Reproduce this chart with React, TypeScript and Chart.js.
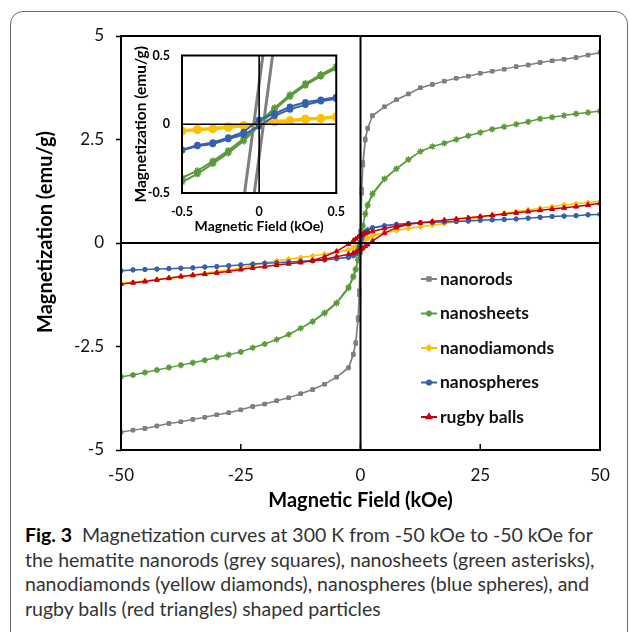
import React, { useEffect, useRef } from 'react';
import { Chart, registerables } from 'chart.js';
import { drawPoint } from 'chart.js/helpers';

Chart.register(...registerables);

// ---------- main chart data (field in kOe, magnetization in emu/g) ----------
const fieldOuterPos = [50, 47.5, 45, 42.5, 40, 37.5, 35, 32.5, 30, 27.5, 25, 22.5, 20, 17.5, 15, 12.5];
const fieldLoop = [10, 7.5, 5, 2.5, 1.5, 1, 0.5, 0.25, 0, -0.25, -0.5, -1, -1.5, -2.5, -5, -7.5, -10];
const fieldOuterNeg = [-12.5, -15, -17.5, -20, -22.5, -25, -27.5, -30, -32.5, -35, -37.5, -40, -42.5, -45, -47.5, -50];

const seriesLabels = ['nanorods', 'nanosheets', 'nanodiamonds', 'nanospheres', 'rugby balls'];

// nanorods (grey squares)
const rodsOuterPos = [4.6, 4.54, 4.48, 4.44, 4.4, 4.36, 4.3, 4.26, 4.2, 4.15, 4.1, 4.03, 3.98, 3.91, 3.83, 3.75];
const rodsLoopDown = [3.6, 3.46, 3.29, 3.07, 2.78, 2.52, 1.95, 1.3, 0.29, -1.15, -1.8, -2.4, -2.68, -3.01, -3.24, -3.41, -3.54];
const rodsLoopUp = [3.6, 3.46, 3.29, 3.08, 2.76, 2.48, 1.88, 1.2, -0.24, -1.25, -1.86, -2.43, -2.7, -3.02, -3.24, -3.41, -3.54];
const rodsOuterNeg = [-3.64, -3.74, -3.81, -3.89, -3.95, -4.03, -4.1, -4.15, -4.21, -4.26, -4.32, -4.36, -4.42, -4.48, -4.52, -4.57];

// nanosheets (green asterisks)
const sheetsOuterPos = [3.19, 3.15, 3.12, 3.08, 3.04, 3.0, 2.93, 2.87, 2.81, 2.75, 2.67, 2.59, 2.5, 2.41, 2.33, 2.21];
const sheetsLoopDown = [2.02, 1.8, 1.56, 1.2, 0.93, 0.72, 0.42, 0.23, 0.01, -0.21, -0.39, -0.62, -0.8, -1.06, -1.44, -1.68, -1.89];
const sheetsLoopUp = [2.01, 1.79, 1.54, 1.17, 0.9, 0.69, 0.41, 0.21, -0.01, -0.24, -0.42, -0.65, -0.83, -1.09, -1.46, -1.7, -1.9];
const sheetsOuterNeg = [-2.06, -2.21, -2.33, -2.44, -2.53, -2.63, -2.7, -2.76, -2.83, -2.89, -2.95, -3.01, -3.07, -3.13, -3.19, -3.23];

// nanodiamonds (yellow diamonds)
const diamondsOuterPos = [1.01, 0.98, 0.95, 0.92, 0.88, 0.84, 0.8, 0.76, 0.72, 0.67, 0.62, 0.57, 0.52, 0.47, 0.43, 0.39];
const diamondsLoopDown = [0.35, 0.3, 0.25, 0.18, 0.13, 0.1, 0.055, 0.035, 0.01, -0.02, -0.045, -0.08, -0.11, -0.16, -0.22, -0.27, -0.31];
const diamondsLoopUp = [0.35, 0.3, 0.24, 0.16, 0.11, 0.08, 0.05, 0.02, -0.01, -0.03, -0.05, -0.09, -0.12, -0.17, -0.23, -0.27, -0.31];
const diamondsOuterNeg = [-0.35, -0.39, -0.43, -0.48, -0.54, -0.61, -0.65, -0.69, -0.73, -0.77, -0.8, -0.84, -0.88, -0.91, -0.95, -0.98];

// nanospheres (blue spheres)
const spheresOuterPos = [0.69, 0.68, 0.66, 0.65, 0.64, 0.62, 0.6, 0.58, 0.57, 0.56, 0.55, 0.53, 0.52, 0.51, 0.5, 0.49];
const spheresLoopDown = [0.47, 0.45, 0.42, 0.37, 0.32, 0.28, 0.2, 0.13, 0.03, -0.08, -0.18, -0.26, -0.3, -0.34, -0.38, -0.41, -0.43];
const spheresLoopUp = [0.47, 0.45, 0.41, 0.36, 0.31, 0.26, 0.185, 0.1, -0.014, -0.11, -0.19, -0.27, -0.31, -0.35, -0.38, -0.41, -0.43];
const spheresOuterNeg = [-0.44, -0.46, -0.48, -0.49, -0.51, -0.53, -0.55, -0.57, -0.58, -0.6, -0.61, -0.62, -0.63, -0.64, -0.65, -0.67];

// rugby balls (red triangles)
const rugbyOuterPos = [0.96, 0.92, 0.88, 0.85, 0.82, 0.79, 0.76, 0.73, 0.7, 0.67, 0.64, 0.61, 0.58, 0.55, 0.52, 0.49];
const rugbyLoopDown = [0.46, 0.41, 0.35, 0.28, 0.25, 0.23, 0.21, 0.2, 0.18, 0.16, 0.14, 0.1, 0.06, -0.03, -0.2, -0.33, -0.42];
const rugbyLoopUp = [0.45, 0.37, 0.24, 0.05, -0.04, -0.08, -0.12, -0.14, -0.16, -0.18, -0.2, -0.22, -0.24, -0.27, -0.33, -0.39, -0.43];
const rugbyOuterNeg = [-0.47, -0.5, -0.53, -0.57, -0.6, -0.64, -0.68, -0.72, -0.75, -0.78, -0.81, -0.85, -0.89, -0.93, -0.96, -0.99];

// ---------- inset data (-0.5 .. 0.5 kOe) ----------
const insetField = [-0.5, -0.4, -0.3, -0.2, -0.1, 0, 0.1, 0.2, 0.3, 0.4, 0.5];
const sheetsInsetDown = [-0.39, -0.338, -0.268, -0.192, -0.103, 0.01, 0.12, 0.214, 0.296, 0.361, 0.42];
const sheetsInsetUp = [-0.42, -0.361, -0.286, -0.209, -0.122, -0.01, 0.108, 0.202, 0.284, 0.35, 0.406];
const spheresInsetDown = [-0.186, -0.152, -0.133, -0.097, -0.056, 0.033, 0.077, 0.127, 0.16, 0.178, 0.197];
const spheresInsetUp = [-0.19, -0.158, -0.143, -0.108, -0.075, -0.014, 0.061, 0.108, 0.141, 0.167, 0.185];
const diamondsInsetDown = [-0.047, -0.036, -0.031, -0.019, -0.007, 0.006, 0.021, 0.028, 0.04, 0.044, 0.056];
const diamondsInsetUp = [-0.051, -0.04, -0.035, -0.023, -0.011, -0.004, 0.017, 0.024, 0.036, 0.04, 0.052];
const rodsInsetFieldDown = [0.036, -0.106];
const rodsInsetMDown = [0.6, -0.6];
const rodsInsetFieldUp = [-0.043, 0.099];
const rodsInsetMUp = [-0.6, 0.6];

const mainTicksX = [-50, -25, 0, 25, 50];
const mainTicksY = [-5, -2.5, 0, 2.5, 5];

const GREY = '#7f7f7f';
const GREEN = '#5b9a3c';
const YELLOW = '#ffc000';
const BLUE = '#3660ad';
const RED = '#c8000a';
const FONT = 'Lato, "Open Sans", sans-serif';

function buildLoop(outerPos: number[], loopDown: number[], loopUp: number[], outerNeg: number[]) {
  const pts: { x: number; y: number }[] = [];
  fieldOuterPos.forEach((h, i) => pts.push({ x: h, y: outerPos[i] }));
  fieldLoop.forEach((h, i) => pts.push({ x: h, y: loopDown[i] }));
  fieldOuterNeg.forEach((h, i) => pts.push({ x: h, y: outerNeg[i] }));
  for (let i = fieldOuterNeg.length - 1; i >= 0; i--) pts.push({ x: fieldOuterNeg[i], y: outerNeg[i] });
  for (let i = fieldLoop.length - 1; i >= 0; i--) pts.push({ x: fieldLoop[i], y: loopUp[i] });
  for (let i = fieldOuterPos.length - 1; i >= 0; i--) pts.push({ x: fieldOuterPos[i], y: outerPos[i] });
  return pts;
}

function buildInsetLoop(down: number[], up: number[]) {
  const pts: { x: number; y: number }[] = [];
  for (let i = insetField.length - 1; i >= 0; i--) pts.push({ x: insetField[i], y: down[i] });
  for (let i = 0; i < insetField.length; i++) pts.push({ x: insetField[i], y: up[i] });
  return pts;
}

const framePlugin = (lw: number, zlw: number) => ({
  id: 'frame',
  afterDatasetsDraw(chart: any) {
    const { ctx, chartArea, scales } = chart;
    ctx.save();
    ctx.strokeStyle = '#000';
    ctx.lineWidth = zlw;
    const x0 = scales.x.getPixelForValue(0);
    const y0 = scales.y.getPixelForValue(0);
    ctx.beginPath();
    ctx.moveTo(x0, chartArea.top);
    ctx.lineTo(x0, chartArea.bottom);
    ctx.moveTo(chartArea.left, y0);
    ctx.lineTo(chartArea.right, y0);
    ctx.stroke();
    ctx.lineWidth = lw;
    ctx.strokeRect(chartArea.left, chartArea.top, chartArea.right - chartArea.left, chartArea.bottom - chartArea.top);
    ctx.restore();
  },
});

const mainExtrasPlugin = {
  id: 'mainExtras',
  afterDatasetsDraw(chart: any) {
    const { ctx, chartArea, scales } = chart;
    ctx.save();
    // inner x ticks
    ctx.strokeStyle = '#000';
    ctx.lineWidth = 1.5;
    mainTicksX.forEach((v) => {
      const px = scales.x.getPixelForValue(v);
      ctx.beginPath();
      ctx.moveTo(px, chartArea.bottom);
      ctx.lineTo(px, chartArea.bottom - 6);
      ctx.stroke();
    });
    // legend inside plot
    const ds = chart.data.datasets;
    ds.forEach((d: any, i: number) => {
      const y = 279 + i * 34.5;
      ctx.strokeStyle = d.borderColor;
      ctx.lineWidth = 2;
      ctx.beginPath();
      ctx.moveTo(421, y);
      ctx.lineTo(437, y);
      ctx.stroke();
      ctx.fillStyle = d.pointBackgroundColor;
      ctx.strokeStyle = d.pointBorderColor;
      drawPoint(ctx, { pointStyle: d.pointStyle, radius: d.pointRadius, rotation: 0, borderWidth: d.pointBorderWidth }, 429, y);
      ctx.fillStyle = '#111';
      ctx.font = `bold 17.5px ${FONT}`;
      ctx.textBaseline = 'middle';
      ctx.textAlign = 'left';
      ctx.fillText(d.label, 440, y);
    });
    // y axis title
    ctx.translate(46, 232);
    ctx.rotate(-Math.PI / 2);
    ctx.fillStyle = '#000';
    ctx.font = `bold 20px ${FONT}`;
    ctx.textAlign = 'center';
    ctx.textBaseline = 'middle';
    ctx.fillText('Magnetization (emu/g)', 0, 0);
    ctx.restore();
  },
};

function mainDataset(label: string, data: any, color: string, style: string, radius: number, order: number, bw = 1) {
  return {
    label,
    data,
    borderColor: color,
    backgroundColor: color,
    pointBackgroundColor: color,
    pointBorderColor: color,
    pointStyle: style,
    pointRadius: radius,
    pointBorderWidth: bw,
    borderWidth: 1.5,
    tension: 0,
    order,
  };
}

export default function App() {
  const mainRef = useRef<HTMLCanvasElement>(null);
  const insetRef = useRef<HTMLCanvasElement>(null);

  useEffect(() => {
    const main = new Chart(mainRef.current as HTMLCanvasElement, {
      type: 'line',
      data: {
        datasets: [
          mainDataset(seriesLabels[0], buildLoop(rodsOuterPos, rodsLoopDown, rodsLoopUp, rodsOuterNeg), GREY, 'rect', 2.4, 4),
          mainDataset(seriesLabels[1], buildLoop(sheetsOuterPos, sheetsLoopDown, sheetsLoopUp, sheetsOuterNeg), GREEN, 'star', 3, 3, 1.1),
          mainDataset(seriesLabels[2], buildLoop(diamondsOuterPos, diamondsLoopDown, diamondsLoopUp, diamondsOuterNeg), YELLOW, 'rectRot', 2.5, 2),
          mainDataset(seriesLabels[3], buildLoop(spheresOuterPos, spheresLoopDown, spheresLoopUp, spheresOuterNeg), BLUE, 'circle', 2.1, 1),
          mainDataset(seriesLabels[4], buildLoop(rugbyOuterPos, rugbyLoopDown, rugbyLoopUp, rugbyOuterNeg), RED, 'triangle', 2.7, 0),
        ] as any,
      },
      options: {
        animation: false,
        responsive: false,
        maintainAspectRatio: false,
        layout: { padding: { left: 0, right: 29, top: 36, bottom: 0 } },
        plugins: { legend: { display: false }, tooltip: { enabled: false } },
        scales: {
          x: {
            type: 'linear',
            min: -50,
            max: 50,
            afterBuildTicks: (s: any) => { s.ticks = mainTicksX.map((v) => ({ value: v })); },
            ticks: { color: '#111', font: { family: FONT, size: 17 }, padding: 15 },
            grid: { display: false, drawTicks: false },
            border: { display: false },
            title: { display: true, text: 'Magnetic Field (kOe)', color: '#000', font: { family: FONT, size: 20, weight: 'bold' }, padding: 2 },
            afterFit: (s: any) => { s.height = 65; },
          },
          y: {
            type: 'linear',
            min: -5,
            max: 5,
            afterBuildTicks: (s: any) => { s.ticks = mainTicksY.map((v) => ({ value: v })); },
            ticks: { color: '#111', font: { family: FONT, size: 17 }, padding: 12 },
            grid: { drawOnChartArea: false, drawTicks: true, tickLength: 5, tickColor: '#000', tickWidth: 1.5, color: '#000' },
            border: { display: false },
            afterFit: (s: any) => { s.width = 121; },
          },
        },
      } as any,
      plugins: [framePlugin(2, 2), mainExtrasPlugin],
    });

    const rodsDown = rodsInsetFieldDown.map((h, i) => ({ x: h, y: rodsInsetMDown[i] }));
    const rodsUp = rodsInsetFieldUp.map((h, i) => ({ x: h, y: rodsInsetMUp[i] }));

    const inset = new Chart(insetRef.current as HTMLCanvasElement, {
      type: 'line',
      data: {
        datasets: [
          { label: 'nanorods', data: [...rodsDown, ...rodsUp], borderColor: GREY, borderWidth: 3, pointRadius: 0, order: 3 },
          { label: 'nanosheets', data: buildInsetLoop(sheetsInsetDown, sheetsInsetUp), borderColor: GREEN, borderWidth: 2, pointStyle: 'star', pointRadius: 3.5, pointBorderColor: GREEN, pointBorderWidth: 1.6, order: 2 },
          { label: 'nanodiamonds', data: buildInsetLoop(diamondsInsetDown, diamondsInsetUp), borderColor: YELLOW, borderWidth: 3, pointStyle: 'circle', pointRadius: 2.8, pointBackgroundColor: YELLOW, pointBorderColor: YELLOW, order: 1 },
          { label: 'nanospheres', data: buildInsetLoop(spheresInsetDown, spheresInsetUp), borderColor: BLUE, borderWidth: 2, pointStyle: 'circle', pointRadius: 2.3, pointBackgroundColor: BLUE, pointBorderColor: BLUE, order: 0 },
        ] as any,
      },
      options: {
        animation: false,
        responsive: false,
        maintainAspectRatio: false,
        layout: { padding: { left: 0, right: 14, top: 15, bottom: 0 } },
        plugins: { legend: { display: false }, tooltip: { enabled: false } },
        elements: { line: { tension: 0 } },
        scales: {
          x: {
            type: 'linear',
            min: -0.5,
            max: 0.5,
            ticks: { stepSize: 0.5, color: '#000', font: { family: FONT, size: 12.5, weight: 'bold' }, padding: 11 },
            grid: { display: false, drawTicks: false },
            border: { display: false },
            title: { display: true, text: 'Magnetic Field (kOe)', color: '#000', font: { family: FONT, size: 14, weight: 'bold' }, padding: 1 },
            afterFit: (s: any) => { s.height = 43; },
          },
          y: {
            type: 'linear',
            min: -0.5,
            max: 0.5,
            ticks: { stepSize: 0.5, color: '#000', font: { family: FONT, size: 12.5, weight: 'bold' }, padding: 12 },
            grid: { display: false, drawTicks: false },
            border: { display: false },
            title: { display: true, text: 'Magnetization (emu/g)', color: '#000', font: { family: FONT, size: 15.5, weight: 'bold' }, padding: 11 },
            afterFit: (s: any) => { s.width = 61; },
          },
        },
      } as any,
      plugins: [framePlugin(2, 1.6)],
    });

    return () => {
      main.destroy();
      inset.destroy();
    };
  }, []);

  return (
    <div style={{ position: 'absolute', left: 0, top: 0, width: 629, height: 632, overflow: 'hidden', background: '#fff' }}>
      <div
        style={{
          position: 'absolute', left: 10, top: 11, width: 618, height: 680,
          border: '1.5px solid #6a6a6a', borderRadius: 13, boxSizing: 'border-box',
        }}
      />
      <canvas ref={mainRef} width={629} height={515} style={{ position: 'absolute', left: 0, top: 0, width: 629, height: 515 }} />
      <canvas ref={insetRef} width={235} height={200} style={{ position: 'absolute', left: 121, top: 36, width: 235, height: 200 }} />
      <div
        style={{
          position: 'absolute', left: 25, top: 523, whiteSpace: 'nowrap',
          fontFamily: FONT, fontSize: 19.5, lineHeight: '24.5px', color: '#333',
        }}
      >
        <span style={{ fontWeight: 'bold', color: '#000' }}>Fig. 3</span>{'\u00a0\u00a0'}Magnetization curves at 300 K from -50 kOe to -50 kOe for
        <br />
        the hematite nanorods (grey squares), nanosheets (green asterisks),
        <br />
        nanodiamonds (yellow diamonds), nanospheres (blue spheres), and
        <br />
        rugby balls (red triangles) shaped particles
      </div>
    </div>
  );
}
